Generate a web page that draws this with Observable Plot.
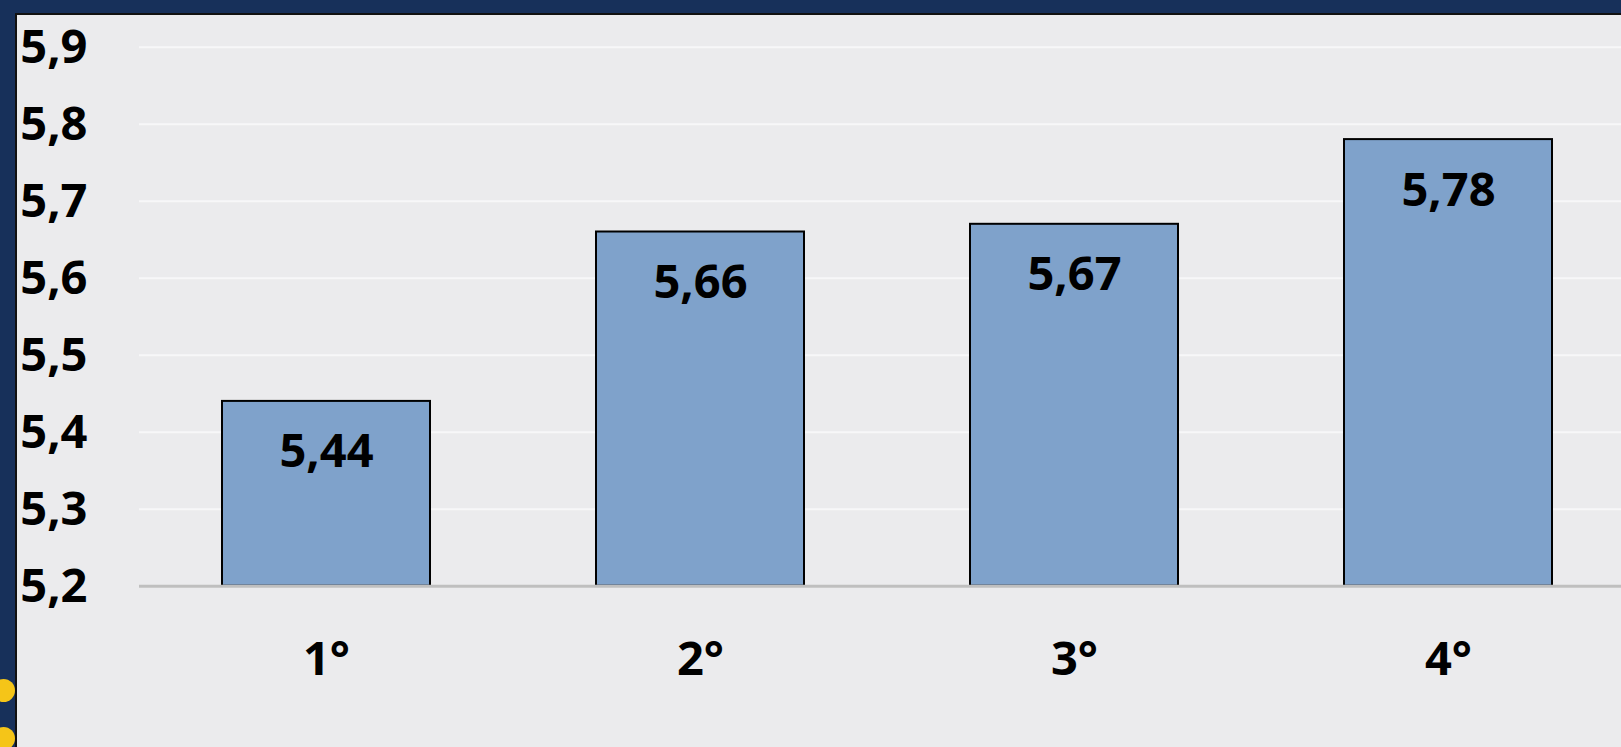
<!DOCTYPE html>
<html>
<head>
<meta charset="utf-8">
<script src="https://cdn.jsdelivr.net/npm/d3@7"></script>
<script src="https://cdn.jsdelivr.net/npm/@observablehq/plot@0.6"></script>
<style>
  html, body { margin: 0; padding: 0; width: 1621px; height: 747px; overflow: hidden; background: #17305a; }
  #panel { position: absolute; left: 15px; top: 13px; width: 1620px; height: 760px; background: #ebebed; border: 2px solid #111; box-sizing: border-box; }
  .dot { position: absolute; width: 23px; height: 23px; border-radius: 50%; background: #f5c518; }
  #chart { position: absolute; left: 0; top: 0; }
  #chart svg { background: transparent; }
</style>
</head>
<body>
<div id="panel"></div>
<div class="dot" style="left:-8px; top:679px"></div>
<div class="dot" style="left:-8px; top:727px"></div>
<div id="chart"></div>
<script>
const categories = ["1°", "2°", "3°", "4°"];
const values = [5.44, 5.66, 5.67, 5.78];
const yTicks = [5.2, 5.3, 5.4, 5.5, 5.6, 5.7, 5.8, 5.9];

const data = categories.map((c, i) => ({cat: c, value: values[i]}));
const fmt = v => v.toFixed(1).replace(".", ",");
const fmt2 = v => v.toFixed(2).replace(".", ",");
const font = "'Open Sans', sans-serif";

const chart = Plot.plot({
  width: 1621,
  height: 747,
  marginLeft: 139,
  marginRight: 0,
  marginTop: 46.7,
  marginBottom: 161.3,
  style: {background: "transparent", fontFamily: font, fontWeight: 700, fontSize: "47px", color: "#000"},
  x: {domain: categories, range: [139, 1635], paddingInner: 0.444, paddingOuter: 0.222, label: null},
  y: {domain: [5.2, 5.9], label: null},
  marks: [
    Plot.gridY(yTicks, {stroke: "#f7f7f8", strokeOpacity: 1, strokeWidth: 2}),
    Plot.barY(data, {x: "cat", y1: 5.2, y2: "value", fill: "#7fa2cb", stroke: "#000", strokeWidth: 2}),
    Plot.ruleY([5.2], {stroke: "#bfbfbf", strokeWidth: 3}),
    Plot.text(data, {x: "cat", y: "value", text: d => fmt2(d.value), dy: 51, fontSize: 47, fontWeight: 700, fill: "#000"}),
    Plot.axisY(yTicks, {tickSize: 0, tickPadding: 52, tickFormat: fmt, fontSize: 47, fontWeight: 700, textAnchor: "end", dy: 1}),
    Plot.axisX({tickSize: 0, tickPadding: 55, fontSize: 47, fontWeight: 700})
  ]
});
document.getElementById("chart").appendChild(chart);
</script>
</body>
</html>
